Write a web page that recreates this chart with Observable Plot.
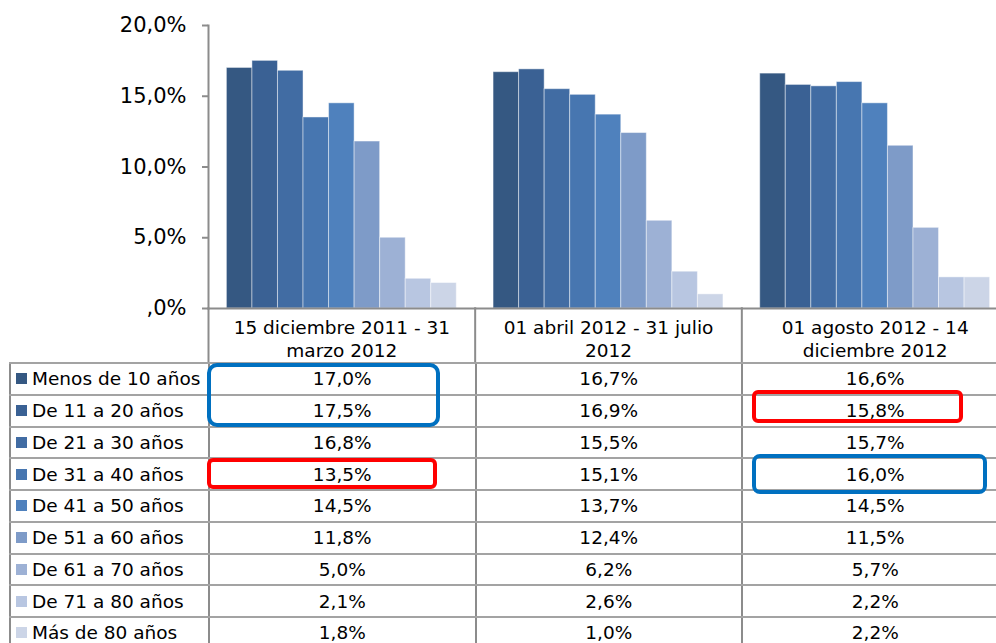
<!DOCTYPE html>
<html><head><meta charset="utf-8">
<script src="https://cdn.jsdelivr.net/npm/d3@7"></script>
<script src="https://cdn.jsdelivr.net/npm/@observablehq/plot@0.6"></script>
<style>
html,body{margin:0;padding:0;background:#fff;overflow:hidden;width:996px;height:643px;}
#wrap{position:relative;width:996px;height:643px;overflow:hidden;background:#fff;}
#chart{position:absolute;left:0;top:0;width:1008px;height:362px;}
#chart svg{max-width:none !important;}
#table{position:absolute;left:9px;top:362px;font-family:"DejaVu Sans",Verdana,sans-serif;font-size:18.5px;color:#000;}
.row{display:flex;height:31.75px;box-sizing:border-box;border-top:2px solid #a3a3a3;}
.cell{box-sizing:border-box;display:flex;align-items:center;height:100%;white-space:nowrap;}
.leg{width:199px;border-left:2px solid #8c8c8c;padding-left:5px;}
.val{width:266.5px;border-left:2px solid #8c8c8c;justify-content:center;}
.sw{width:11px;height:11px;margin-right:5px;flex:none;}
.box{position:absolute;box-sizing:border-box;border:4px solid;z-index:5;}
</style>
</head><body>
<div id="wrap"><div id="chart"></div><div id="table"></div></div>
<script>
const series = ["Menos de 10 años","De 11 a 20 años","De 21 a 30 años","De 31 a 40 años","De 41 a 50 años","De 51 a 60 años","De 61 a 70 años","De 71 a 80 años","Más de 80 años"];
const groups = ["15 diciembre 2011 - 31 marzo 2012","01 abril 2012 - 31 julio 2012","01 agosto 2012 - 14 diciembre 2012"];
const groupLabels = ["15 diciembre 2011 - 31\nmarzo 2012","01 abril 2012 - 31 julio\n2012","01 agosto 2012 - 14\ndiciembre 2012"];
const valuesG1 = [17.0,17.5,16.8,13.5,14.5,11.8,5.0,2.1,1.8];
const valuesG2 = [16.7,16.9,15.5,15.1,13.7,12.4,6.2,2.6,1.0];
const valuesG3 = [16.6,15.8,15.7,16.0,14.5,11.5,5.7,2.2,2.2];
const yTicks = [0,5,10,15,20];
const colors = ["#355882","#3a6194","#416ca3","#4776b0","#4f81bd","#7e9bc8","#9db1d5","#b8c6e1","#ccd5e7"];

const allValues = [valuesG1, valuesG2, valuesG3];
const data = [];
groups.forEach((g, gi) => series.forEach((s, si) => data.push({group: g, series: s, value: allValues[gi][si]})));

const fmt = d => (d === 0 ? "" : String(Math.trunc(d))) + "," + (Math.round(d * 10) % 10) + "%";
const fmtVal = d => d.toFixed(1).replace(".", ",") + "%";

const W = 1008, H = 362, MT = 25, MB = 54, ML = 208;
const lineColor = "#8c8c8c";

const chart = Plot.plot({
  width: W, height: H, marginTop: MT, marginBottom: MB, marginLeft: ML, marginRight: 0,
  style: {fontFamily: "DejaVu Sans, Verdana, sans-serif", background: "white", color: "black", overflow: "visible", maxWidth: "none"},
  fx: {domain: groups, padding: 0, round: false},
  x: {domain: series, paddingInner: 0, paddingOuter: 0.72, round: false, axis: null},
  y: {domain: [0, 20]},
  color: {domain: series, range: colors},
  marks: [
    Plot.barY(data, {fx: "group", x: "series", y: "value", fill: "series", stroke: "white", strokeOpacity: 0.45, strokeWidth: 1}),
    Plot.frame({anchor: "left", facetAnchor: "left", stroke: lineColor, strokeWidth: 2}),
    Plot.frame({anchor: "left", insetTop: H - MT - MB, insetBottom: -MB, stroke: lineColor, strokeWidth: 2}),
    Plot.frame({anchor: "bottom", stroke: lineColor, strokeWidth: 2}),
    Plot.axisY({ticks: yTicks, tickFormat: fmt, tickSize: 6, tickPadding: 16, fontSize: 21, stroke: lineColor, strokeWidth: 2, fill: "black", label: null}),
    Plot.axisFx({anchor: "bottom", tickSize: 0, tickPadding: 9, fontSize: 18.5, lineHeight: 1.24, fill: "black", label: null, tickFormat: d => groupLabels[groups.indexOf(d)]})
  ]
});
document.getElementById("chart").appendChild(chart);

const table = document.getElementById("table");
series.forEach((s, si) => {
  const row = document.createElement("div");
  row.className = "row";
  const leg = document.createElement("div");
  leg.className = "cell leg";
  const sw = document.createElement("span");
  sw.className = "sw";
  sw.style.background = colors[si];
  leg.appendChild(sw);
  leg.appendChild(document.createTextNode(s));
  row.appendChild(leg);
  allValues.forEach(vals => {
    const c = document.createElement("div");
    c.className = "cell val";
    c.textContent = fmtVal(vals[si]);
    row.appendChild(c);
  });
  table.appendChild(row);
});

const boxes = [
  {left: 207, top: 363, width: 233, height: 64, color: "#0070c0", r: 10},
  {left: 207, top: 458, width: 230, height: 31, color: "#ff0000", r: 6},
  {left: 752, top: 390, width: 211, height: 33, color: "#ff0000", r: 6},
  {left: 752, top: 454, width: 235, height: 40, color: "#0070c0", r: 8}
];
const wrap = document.getElementById("wrap");
boxes.forEach(b => {
  const d = document.createElement("div");
  d.className = "box";
  Object.assign(d.style, {left: b.left + "px", top: b.top + "px", width: b.width + "px", height: b.height + "px", borderColor: b.color, borderRadius: b.r + "px"});
  wrap.appendChild(d);
});
</script>
</body></html>
